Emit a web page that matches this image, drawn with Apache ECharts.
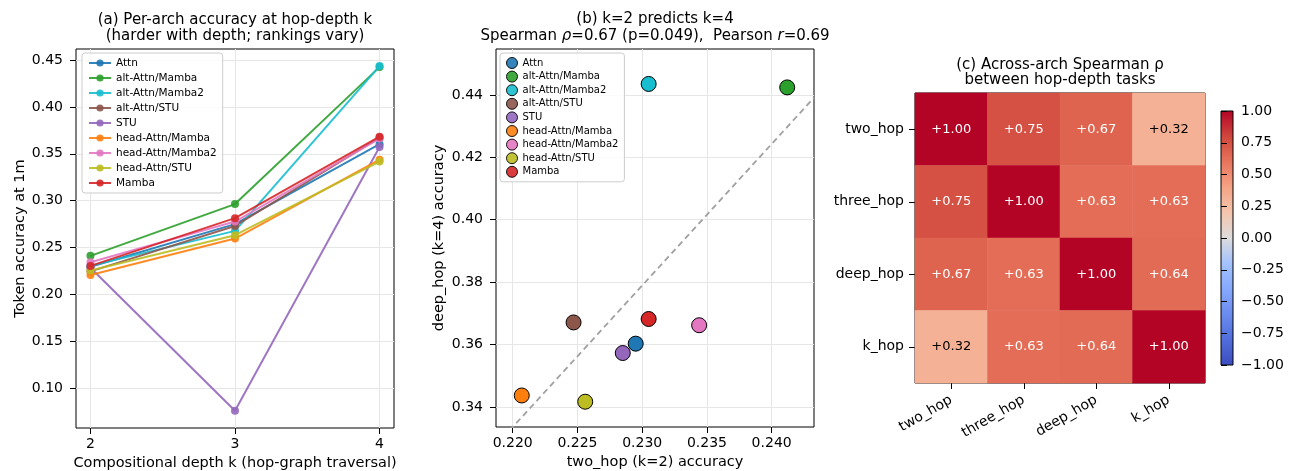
<!DOCTYPE html>
<html>
<head>
<meta charset="utf-8">
<script src="https://cdn.jsdelivr.net/npm/echarts@6/dist/echarts.min.js"></script>
<style>
  html, body { margin: 0; padding: 0; background: #fff; }
  #chart { width: 1289px; height: 471px; }
</style>
</head>
<body>
<div id="chart"></div>
<script>
// architectures and their colours (matplotlib tab10 order)
const archs = ['Attn', 'alt-Attn/Mamba', 'alt-Attn/Mamba2', 'alt-Attn/STU', 'STU',
  'head-Attn/Mamba', 'head-Attn/Mamba2', 'head-Attn/STU', 'Mamba'];
const archColors = ['#1f77b4', '#2ca02c', '#17becf', '#8c564b', '#9467bd',
  '#ff7f0e', '#e377c2', '#bcbd22', '#d62728'];

// token accuracy at each hop depth
const depths = [2, 3, 4];
const accK2 = [0.2295, 0.2412, 0.2305, 0.2247, 0.2285, 0.2207, 0.2344, 0.2256, 0.2305];
const accK3 = [0.2750, 0.2964, 0.2678, 0.2731, 0.0761, 0.2596, 0.2778, 0.2632, 0.2814];
const accK4 = [0.3603, 0.4424, 0.4435, 0.3671, 0.3573, 0.3437, 0.3662, 0.3417, 0.3682];

// spearman correlation between tasks
const tasks = ['two_hop', 'three_hop', 'deep_hop', 'k_hop'];
const rho = [
  [1.00, 0.75, 0.67, 0.32],
  [0.75, 1.00, 0.63, 0.63],
  [0.67, 0.63, 1.00, 0.64],
  [0.32, 0.63, 0.64, 1.00]
];

// tick labels
const aXTicks = [2, 3, 4];
const aYTicks = [0.10, 0.15, 0.20, 0.25, 0.30, 0.35, 0.40, 0.45];
const bXTicks = [0.220, 0.225, 0.230, 0.235, 0.240];
const bYTicks = [0.34, 0.36, 0.38, 0.40, 0.42, 0.44];

const coolwarm = ['#3b4cc0', '#516ddb', '#6a8bef', '#86a9fc', '#a3c2fe', '#dddcdc',
  '#f4c5ad', '#f6a385', '#e7745b', '#cf453c', '#b40426'];

const FONT = 'DejaVu Sans';
const myChart = echarts.init(document.getElementById('chart'));

// least squares fit for the dashed line in (b)
const n = accK2.length;
const mx = accK2.reduce((s, v) => s + v, 0) / n;
const my = accK4.reduce((s, v) => s + v, 0) / n;
let sxy = 0, sxx = 0;
accK2.forEach((x, i) => { sxy += (x - mx) * (accK4[i] - my); sxx += (x - mx) * (x - mx); });
const slope = sxy / sxx;
const icpt = my - slope * mx;
const bXMin = 0.21871, bXMax = 0.24327;

const fmt2 = v => v.toFixed(2);
const fmt3 = v => v.toFixed(3);
const minus = s => s.replace('-', '\u2212');

const tickStyle = { show: true, inside: false, length: 6, lineStyle: { color: '#000', width: 1 } };
const splitStyle = { show: true, lineStyle: { color: '#e6e6e6', width: 1 } };
const labelStyle = { color: '#000', fontSize: 14, fontFamily: FONT };
const nameStyle = { color: '#000', fontSize: 14.5, fontFamily: FONT };
const titleFont = '15px "DejaVu Sans"';

let series = [];

// (a) lines
archs.forEach((name, i) => {
  series.push({
    name: name,
    type: 'line',
    xAxisIndex: 0, yAxisIndex: 0,
    data: depths.map((d, j) => [d, [accK2, accK3, accK4][j][i]]),
    symbol: 'circle',
    symbolSize: 8,
    lineStyle: { width: 2, color: archColors[i], opacity: 0.9 },
    itemStyle: { color: archColors[i], opacity: 0.9 },
    z: 2 + i,
    animation: false
  });
});

// (b) fit line
series.push({
  type: 'line',
  xAxisIndex: 1, yAxisIndex: 1,
  data: [[bXMin, icpt + slope * bXMin], [bXMax, icpt + slope * bXMax]],
  symbol: 'none',
  lineStyle: { color: '#a0a0a0', width: 1.8, type: [6, 4] },
  z: 1,
  silent: true,
  animation: false
});

// (b) scatter
archs.forEach((name, i) => {
  series.push({
    name: name,
    type: 'scatter',
    xAxisIndex: 1, yAxisIndex: 1,
    data: [[accK2[i], accK4[i]]],
    symbolSize: 15,
    itemStyle: { color: archColors[i], borderColor: '#000', borderWidth: 1, opacity: 1 },
    z: 3,
    animation: false
  });
});

// (c) heatmap
const heatData = [];
rho.forEach((row, r) => row.forEach((v, c) => {
  heatData.push({ value: [c, r, v], label: { color: v > 0.5 ? '#fff' : '#000' } });
}));
series.push({
  type: 'heatmap',
  xAxisIndex: 2, yAxisIndex: 2,
  data: heatData,
  label: {
    show: true,
    fontSize: 13,
    fontFamily: FONT,
    formatter: p => (p.value[2] >= 0 ? '+' : '\u2212') + Math.abs(p.value[2]).toFixed(2)
  },
  emphasis: { disabled: true },
  animation: false
});

const gridBase = { show: true, borderColor: '#000', borderWidth: 1, backgroundColor: 'transparent', outerBoundsMode: 'none', containLabel: false };

const option = {
  animation: false,
  textStyle: { fontFamily: FONT },
  graphic: [
    { type: 'text', x: 235, y: 20, style: { text: '(a) Per-arch accuracy at hop-depth k', font: titleFont, fill: '#000', align: 'center', verticalAlign: 'middle' } },
    { type: 'text', x: 235, y: 36, style: { text: '(harder with depth; rankings vary)', font: titleFont, fill: '#000', align: 'center', verticalAlign: 'middle' } },
    { type: 'text', x: 655, y: 19, style: { text: '(b) k=2 predicts k=4', font: titleFont, fill: '#000', align: 'center', verticalAlign: 'middle' } },
    {
      type: 'text', x: 655, y: 36,
      style: {
        text: '{n|Spearman }{i|ρ}{n|=0.67 (p=0.049),  Pearson }{i|r}{n|=0.69}',
        align: 'center', verticalAlign: 'middle',
        rich: {
          n: { fontSize: 15, fontFamily: FONT, fill: '#000' },
          i: { fontSize: 15, fontFamily: FONT, fontStyle: 'italic', fill: '#000' }
        }
      }
    },
    { type: 'text', x: 1060, y: 65, style: { text: '(c) Across-arch Spearman ρ', font: titleFont, fill: '#000', align: 'center', verticalAlign: 'middle' } },
    { type: 'text', x: 1060, y: 80, style: { text: 'between hop-depth tasks', font: titleFont, fill: '#000', align: 'center', verticalAlign: 'middle' } }
  ],
  legend: [
    {
      data: archs,
      orient: 'vertical',
      left: 82, top: 53,
      itemWidth: 22, itemHeight: 9, itemGap: 3,
      padding: [4, 6, 4, 6],
      backgroundColor: 'rgba(255,255,255,0.8)',
      borderColor: '#cccccc', borderWidth: 1, borderRadius: 3,
      textStyle: { fontSize: 10.5, fontFamily: FONT, color: '#000', lineHeight: 12 },
      selectedMode: false
    },
    {
      data: archs.map((name, i) => ({
        name: name, icon: 'circle',
        itemStyle: { color: archColors[i], borderColor: '#000', borderWidth: 1 }
      })),
      orient: 'vertical',
      left: 500, top: 53,
      itemWidth: 11, itemHeight: 11, itemGap: 1.6,
      padding: [4, 6, 4, 6],
      backgroundColor: 'rgba(255,255,255,0.8)',
      borderColor: '#cccccc', borderWidth: 1, borderRadius: 3,
      textStyle: { fontSize: 10, fontFamily: FONT, color: '#000', lineHeight: 11 },
      selectedMode: false
    }
  ],
  visualMap: {
    type: 'continuous',
    show: false,
    min: -1, max: 1,
    seriesIndex: series.length - 1,
    inRange: { color: coolwarm }
  },
  grid: [
    Object.assign({ left: 76, top: 49, width: 318, height: 379 }, gridBase),
    Object.assign({ left: 496, top: 49, width: 318, height: 378 }, gridBase),
    Object.assign({ left: 915, top: 93, width: 290, height: 290 }, gridBase),
    Object.assign({}, gridBase, {
      left: 1221, top: 111, width: 12, height: 254,
      backgroundColor: new echarts.graphic.LinearGradient(0, 0, 0, 1,
        coolwarm.slice().reverse().map((c, i, arr) => ({ offset: i / (arr.length - 1), color: c })))
    })
  ],
  xAxis: [
    {
      gridIndex: 0, type: 'value', min: 1.9, max: 4.1,
      name: 'Compositional depth k (hop-graph traversal)', nameLocation: 'middle', nameGap: 27, nameTextStyle: nameStyle,
      axisLine: { show: false },
      axisTick: Object.assign({ customValues: aXTicks }, tickStyle),
      axisLabel: Object.assign({ customValues: aXTicks, margin: 9, formatter: v => String(v) }, labelStyle),
      splitLine: splitStyle
    },
    {
      gridIndex: 1, type: 'value', min: bXMin, max: bXMax,
      name: 'two_hop (k=2) accuracy', nameLocation: 'middle', nameGap: 27, nameTextStyle: nameStyle,
      axisLine: { show: false },
      axisTick: Object.assign({ customValues: bXTicks }, tickStyle),
      axisLabel: Object.assign({ customValues: bXTicks, margin: 9, formatter: fmt3 }, labelStyle),
      splitLine: splitStyle
    },
    {
      gridIndex: 2, type: 'category', data: tasks,
      axisLine: { show: false },
      axisTick: { show: true, alignWithLabel: true, length: 6, lineStyle: { color: '#000' } },
      axisLabel: Object.assign({ rotate: 30, margin: 16, interval: 0 }, labelStyle),
      splitLine: { show: false }
    },
    { gridIndex: 3, type: 'value', min: 0, max: 1, show: false }
  ],
  yAxis: [
    {
      gridIndex: 0, type: 'value', min: 0.0577, max: 0.4617,
      name: 'Token accuracy at 1m', nameLocation: 'middle', nameGap: 48, nameTextStyle: nameStyle,
      axisLine: { show: false },
      axisTick: Object.assign({ customValues: aYTicks }, tickStyle),
      axisLabel: Object.assign({ customValues: aYTicks, margin: 13, formatter: fmt2 }, labelStyle),
      splitLine: splitStyle
    },
    {
      gridIndex: 1, type: 'value', min: 0.3336, max: 0.4547,
      name: 'deep_hop (k=4) accuracy', nameLocation: 'middle', nameGap: 49, nameTextStyle: nameStyle,
      axisLine: { show: false },
      axisTick: Object.assign({ customValues: bYTicks }, tickStyle),
      axisLabel: Object.assign({ customValues: bYTicks, margin: 13, formatter: fmt2 }, labelStyle),
      splitLine: splitStyle
    },
    {
      gridIndex: 2, type: 'category', data: tasks, inverse: true,
      axisLine: { show: false },
      axisTick: { show: true, alignWithLabel: true, length: 6, lineStyle: { color: '#000' } },
      axisLabel: Object.assign({ margin: 11 }, labelStyle),
      splitLine: { show: false }
    },
    {
      gridIndex: 3, type: 'value', min: -1, max: 1, interval: 0.25, position: 'right',
      axisLine: { show: false },
      axisTick: tickStyle,
      axisLabel: Object.assign({ margin: 8, formatter: v => minus(v.toFixed(2)) }, labelStyle),
      splitLine: { show: false }
    }
  ],
  series: series
};

myChart.setOption(option);
</script>
</body>
</html>
